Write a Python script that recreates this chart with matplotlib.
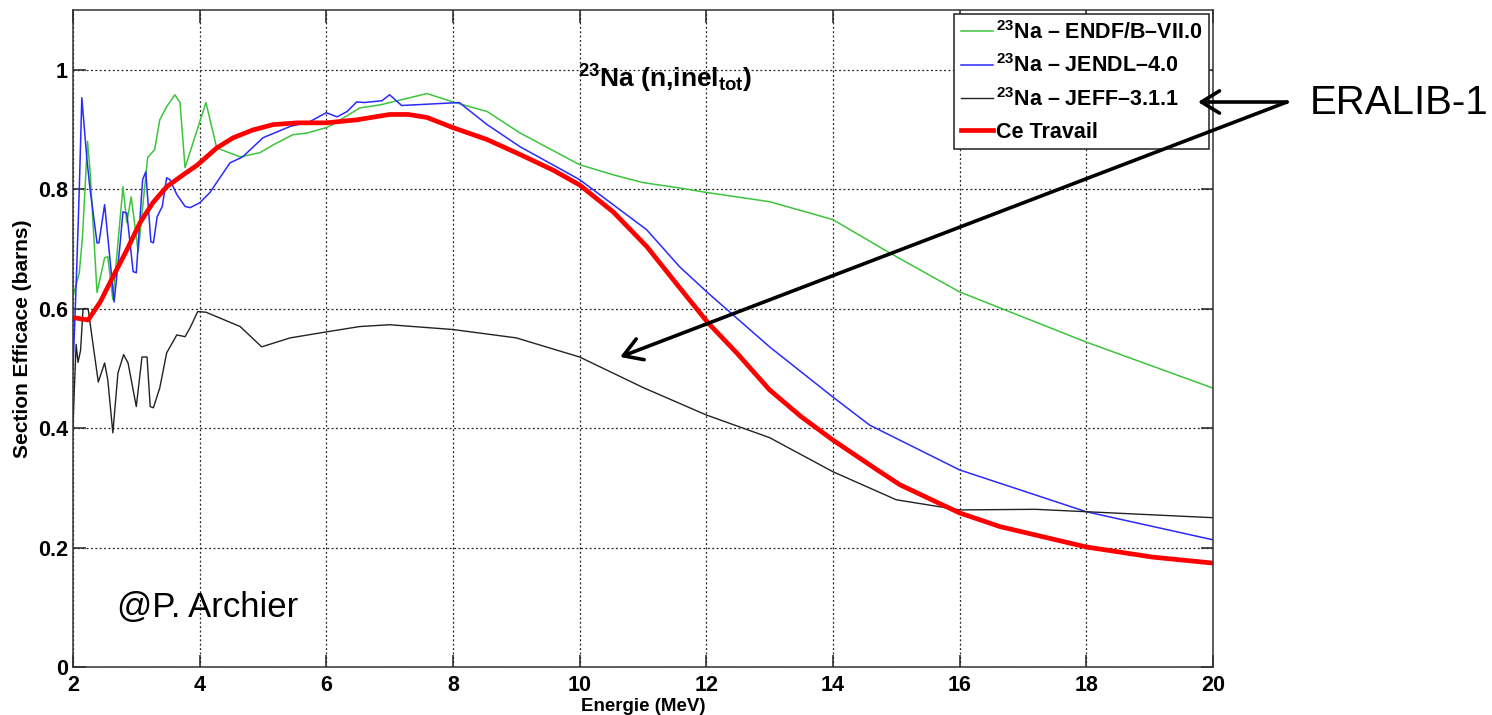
#==========================================================================
# 23Na (n,inel_tot) cross section, evaluations vs this work
#==========================================================================
import numpy as np
import matplotlib
matplotlib.use("Agg")
import matplotlib.pyplot as plt

plt.rcParams['font.family'] = ['Liberation Sans', 'DejaVu Sans']
plt.rcParams['mathtext.fontset'] = 'custom'
plt.rcParams['mathtext.rm'] = 'Liberation Sans:bold'
plt.rcParams['mathtext.it'] = 'Liberation Sans:bold'
plt.rcParams['mathtext.bf'] = 'Liberation Sans:bold'
plt.rcParams['mathtext.default'] = 'rm'

#%%
#==========================================================================
# Data
#==========================================================================
endf_x = [2.0, 2.1, 2.15, 2.23, 2.27, 2.38, 2.5, 2.55, 2.63, 2.79, 2.85, 2.92, 3.03,
          3.18, 3.29, 3.37, 3.48, 3.61, 3.69, 3.77, 4.1, 4.27, 4.64, 4.95, 5.16,
          5.47, 5.7, 6.0, 6.1, 6.53, 6.85, 7.59, 8.0, 8.54, 9.06, 10.0, 10.53,
          11.0, 11.58, 12.03, 13.0, 14.0, 14.9, 16.0, 18.0, 20.0]
endf_y = [0.62, 0.66, 0.72, 0.88, 0.83, 0.627, 0.685, 0.687, 0.615, 0.804, 0.744,
          0.787, 0.695, 0.853, 0.866, 0.916, 0.938, 0.958, 0.945, 0.836, 0.945,
          0.869, 0.854, 0.861, 0.874, 0.891, 0.894, 0.903, 0.908, 0.936, 0.941,
          0.960, 0.946, 0.930, 0.894, 0.841, 0.824, 0.811, 0.802, 0.794, 0.779,
          0.749, 0.693, 0.628, 0.544, 0.467]

jendl_x = [2.0, 2.03, 2.06, 2.1, 2.14, 2.22, 2.27, 2.38, 2.41, 2.5, 2.55, 2.65,
           2.74, 2.79, 2.85, 2.95, 3.0, 3.1, 3.15, 3.23, 3.27, 3.33, 3.41, 3.48,
           3.53, 3.64, 3.77, 3.85, 4.0, 4.16, 4.48, 4.68, 5.0, 5.43, 5.74, 6.0,
           6.17, 6.33, 6.48, 6.6, 6.88, 7.0, 7.19, 8.1, 8.54, 9.06, 10.0, 10.53,
           11.06, 11.58, 12.03, 13.0, 14.0, 14.58, 16.0, 18.0, 20.0]
jendl_y = [0.50, 0.58, 0.67, 0.80, 0.953, 0.85, 0.80, 0.71, 0.71, 0.774, 0.72,
           0.611, 0.704, 0.762, 0.76, 0.662, 0.66, 0.816, 0.829, 0.712, 0.71,
           0.754, 0.771, 0.819, 0.816, 0.791, 0.771, 0.769, 0.777, 0.794, 0.844,
           0.854, 0.886, 0.905, 0.913, 0.928, 0.921, 0.930, 0.946, 0.945, 0.948,
           0.958, 0.940, 0.945, 0.908, 0.871, 0.816, 0.774, 0.732, 0.670, 0.626,
           0.536, 0.452, 0.405, 0.330, 0.260, 0.213]

jeff_x = [2.0, 2.02, 2.05, 2.08, 2.12, 2.16, 2.24, 2.3, 2.4, 2.5, 2.55, 2.63,
          2.71, 2.8, 2.87, 3.0, 3.09, 3.17, 3.22, 3.27, 3.37, 3.48, 3.64, 3.77,
          3.85, 3.97, 4.1, 4.64, 4.98, 5.43, 6.0, 6.53, 7.0, 8.0, 9.0, 10.0,
          11.0, 12.0, 13.0, 14.0, 15.0, 16.0, 17.2, 18.0, 20.0]
jeff_y = [0.40, 0.46, 0.54, 0.51, 0.53, 0.60, 0.60, 0.553, 0.477, 0.509, 0.481,
          0.392, 0.492, 0.523, 0.509, 0.436, 0.519, 0.519, 0.436, 0.434, 0.467,
          0.526, 0.556, 0.553, 0.568, 0.595, 0.594, 0.570, 0.536, 0.551, 0.561,
          0.570, 0.573, 0.565, 0.551, 0.519, 0.468, 0.422, 0.384, 0.327, 0.280,
          0.263, 0.264, 0.260, 0.250]

work_x = [2.0, 2.24, 2.43, 2.63, 2.85, 3.06, 3.26, 3.48, 3.74, 3.96, 4.27, 4.53,
          4.84, 5.16, 5.54, 6.0, 6.48, 7.0, 7.3, 7.59, 8.0, 8.54, 9.06, 9.58,
          10.0, 10.53, 11.06, 11.58, 12.03, 12.48, 13.0, 13.5, 14.0, 14.7, 15.06,
          16.0, 16.64, 18.0, 19.05, 20.0]
work_y = [0.585, 0.581, 0.611, 0.653, 0.698, 0.744, 0.777, 0.804, 0.824, 0.840,
          0.869, 0.886, 0.899, 0.908, 0.911, 0.911, 0.916, 0.925, 0.925, 0.920,
          0.903, 0.883, 0.858, 0.832, 0.807, 0.762, 0.704, 0.635, 0.576, 0.526,
          0.464, 0.419, 0.380, 0.330, 0.305, 0.258, 0.235, 0.201, 0.184, 0.174]

labels = [r'$^{23}$Na – ENDF/B–VII.0', r'$^{23}$Na – JENDL–4.0',
          r'$^{23}$Na – JEFF–3.1.1', 'Ce Travail']
x_ticks = [2, 4, 6, 8, 10, 12, 14, 16, 18, 20]
y_ticks = [0, 0.2, 0.4, 0.6, 0.8, 1.0]
y_ticklabels = ['0', '0.2', '0.4', '0.6', '0.8', '1']

#%%
#==========================================================================
# Plot
#==========================================================================
fig = plt.figure(figsize=(14.92, 7.15), dpi=100)
ax = fig.add_axes([0.0489, 0.0671, 0.764, 0.919])

ax.plot(endf_x, endf_y, color='#3cc43c', lw=1.1, label=labels[0])
ax.plot(jendl_x, jendl_y, color='#2a2aff', lw=1.1, label=labels[1])
ax.plot(jeff_x, jeff_y, color='#222222', lw=1.0, label=labels[2])
ax.plot(work_x, work_y, color='#ff0000', lw=3.4, label=labels[3])

ax.set_xlim(2, 20)
ax.set_ylim(0, 1.1)
ax.set_xticks(x_ticks)
ax.set_yticks(y_ticks)
ax.set_yticklabels(y_ticklabels)
ax.grid(True, color='#222222', linestyle=(0, (1.5, 2.0)), linewidth=0.9)
ax.tick_params(direction='in', length=9, width=1.1, top=True, right=True,
               labelsize=15.5, colors='#222222')
ax.tick_params(axis='x', pad=6)
ax.tick_params(axis='y', pad=3.5)
for lab in ax.get_xticklabels() + ax.get_yticklabels():
    lab.set_fontweight('bold')
    lab.set_color('black')
for s in ax.spines.values():
    s.set_color('#333333')
    s.set_linewidth(1.1)

ax.set_xlabel('Energie (MeV)', fontsize=13.5, fontweight='bold', labelpad=1)
ax.set_ylabel('Section Efficace (barns)', fontsize=15, fontweight='bold', labelpad=4)

ax.text(11.35, 0.97, r'$^{23}$Na (n,inel$_{tot}$)', fontsize=19, fontweight='bold',
        ha='center', va='baseline')

leg = ax.legend(loc='upper right', prop={'weight': 'bold', 'size': 15.5},
                fancybox=False, framealpha=1, edgecolor='#222222',
                borderaxespad=0.2, handlelength=1.5, handletextpad=0.12,
                labelspacing=0.5, borderpad=0.3)
leg.get_frame().set_linewidth(1.1)

# annotations outside the axes
fig.text(1310 / 1492, 1 - 103 / 715, 'ERALIB-1', fontsize=29, va='center', ha='left')
fig.text(117 / 1492, 1 - 617 / 715, '@P. Archier', fontsize=25, va='baseline', ha='left')

arrow = dict(arrowstyle='->,head_length=0.65,head_width=0.4', lw=2.6,
             color='black', mutation_scale=20, shrinkA=0, shrinkB=0)
ax.annotate('', xy=(1198, 715 - 102), xycoords='figure pixels',
            xytext=(1287, 715 - 102), textcoords='figure pixels',
            arrowprops=arrow, annotation_clip=False, zorder=10)
ax.annotate('', xy=(10.64, 0.519), xycoords='data',
            xytext=(1287, 715 - 102), textcoords='figure pixels',
            arrowprops=arrow, annotation_clip=False, zorder=10)

plt.savefig('out.png', dpi=100)
